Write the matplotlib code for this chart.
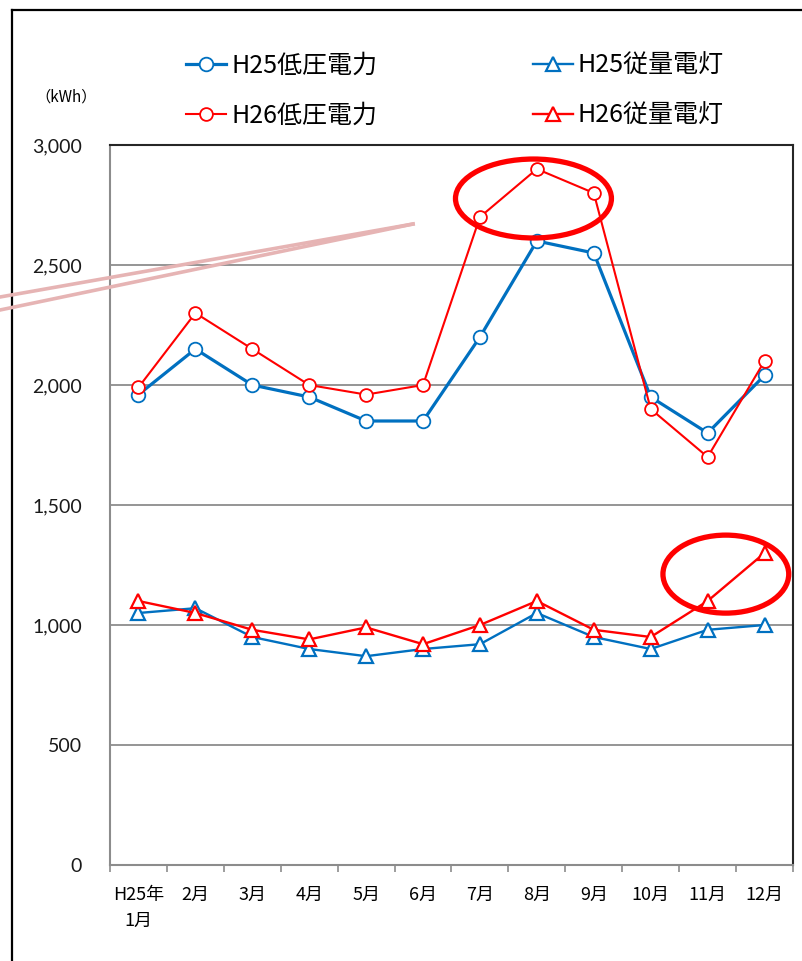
import matplotlib
matplotlib.use("Agg")
import matplotlib.pyplot as plt
from matplotlib.lines import Line2D
from matplotlib.patches import Ellipse

plt.rcParams['font.family'] = ['Noto Sans CJK JP', 'DejaVu Sans']

months = ["H25年\n1月", "2月", "3月", "4月", "5月", "6月", "7月", "8月", "9月", "10月", "11月", "12月"]
h25_low = [1960, 2150, 2000, 1950, 1850, 1850, 2200, 2600, 2550, 1950, 1800, 2040]
h26_low = [1990, 2300, 2150, 2000, 1960, 2000, 2700, 2900, 2800, 1900, 1700, 2100]
h25_lamp = [1050, 1070, 950, 900, 870, 900, 920, 1050, 950, 900, 980, 1000]
h26_lamp = [1100, 1050, 980, 940, 990, 920, 1000, 1100, 980, 950, 1100, 1300]
yticks = [0, 500, 1000, 1500, 2000, 2500, 3000]

BLUE = "#0070C0"
RED = "#FF0000"
W, H = 803, 961

fig = plt.figure(figsize=(W / 100, H / 100), dpi=100)
ax = fig.add_axes([110 / W, 1 - 865 / H, (793 - 110) / W, (865 - 145) / H])

x = list(range(len(months)))
l1, = ax.plot(x, h25_low, color=BLUE, lw=2.3, marker='o', ms=9.8, mfc='white', mec=BLUE, mew=1.3, zorder=3)
l3, = ax.plot(x, h25_lamp, color=BLUE, lw=1.7, marker='^', ms=10, mfc='white', mec=BLUE, mew=1.6, zorder=3)
l2, = ax.plot(x, h26_low, color=RED, lw=1.5, marker='o', ms=9.2, mfc='white', mec=RED, mew=1.3, zorder=4)
l4, = ax.plot(x, h26_lamp, color=RED, lw=1.7, marker='^', ms=10, mfc='white', mec=RED, mew=1.6, zorder=4)

ax.set_xlim(-0.5, len(months) - 0.5)
ax.set_ylim(0, 3000)
ax.set_yticks(yticks)
ax.set_yticklabels([f"{v:,}" for v in yticks], family='Lato', fontsize=14, color='#1a1a1a')
ax.tick_params(axis='y', length=0, pad=20)
ax.grid(axis='y', color='#8c8c8c', lw=1.3, zorder=1)
ax.set_axisbelow(True)

ax.set_xticks(x)
ax.set_xticklabels(months, fontsize=13, linespacing=1.6)
ax.set_xticks([i - 0.5 for i in range(len(months) + 1)], minor=True)
ax.tick_params(axis='x', which='major', length=0, pad=15)
ax.tick_params(axis='x', which='minor', length=5, color='#8c8c8c', width=1.2, direction='out')

for s in ['left', 'bottom']:
    ax.spines[s].set_color('#8c8c8c')
    ax.spines[s].set_linewidth(1.5)
for s in ['top', 'right']:
    ax.spines[s].set_color('#262626')
    ax.spines[s].set_linewidth(1.5)

# annotation ellipses
ax.add_patch(Ellipse((6.94, 2777), 2.74, 329, fill=False, ec=RED, lw=3.8, zorder=5, clip_on=False))
ax.add_patch(Ellipse((10.32, 1212), 2.21, 325, fill=False, ec=RED, lw=3.8, zorder=5, clip_on=False))

# unit label
fig.text(66 / W, 1 - 97 / H, "（kWh）", fontsize=11, ha='center', va='center')

# legend
fig.legend([l1, l2, l3, l4], ["H25低圧電力", "H26低圧電力", "H25従量電灯", "H26従量電灯"],
           ncol=2, loc='center', bbox_to_anchor=(455 / W, 1 - 90.5 / H), frameon=False,
           fontsize=18, handlelength=1.6, handletextpad=0.2, columnspacing=6.2,
           labelspacing=0.95, borderpad=0)

# outer frame
fig.add_artist(Line2D([12.5 / W, 12.5 / W], [0, 1 - 10 / H], color='black', lw=1.6))
fig.add_artist(Line2D([12 / W, 1], [1 - 10 / H, 1 - 10 / H], color='black', lw=1.6))

# pink callout pointer
PINK = "#E6B4B4"
fig.add_artist(Line2D([0, 413 / W], [1 - 297 / H, 1 - 224 / H], color=PINK, lw=2.6, zorder=10))
fig.add_artist(Line2D([0, 413 / W], [1 - 310 / H, 1 - 224 / H], color=PINK, lw=2.6, zorder=10))

fig.savefig("out.png", dpi=100)
